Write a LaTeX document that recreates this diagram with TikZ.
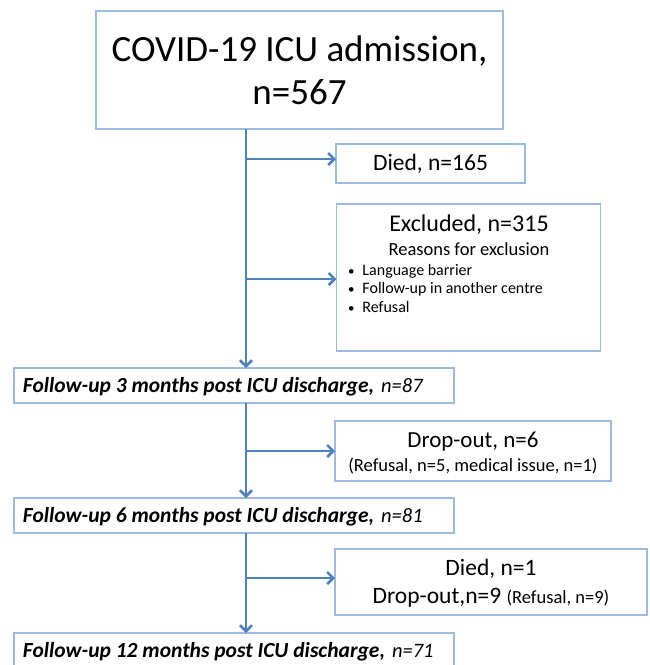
\documentclass[tikz,border=0pt]{standalone}
\usepackage{fontspec}
\setmainfont{Carlito}
\usetikzlibrary{arrows.meta}
\definecolor{boxline}{HTML}{9DBBE0}
\definecolor{arrblue}{HTML}{4F81BD}
\tikzset{
  box/.style={draw=boxline, line width=1.2pt, fill=white, inner sep=0pt, outer sep=0pt, rectangle},
  arr/.style={draw=arrblue, line width=2.5pt, -{Straight Barb[length=6pt,width=12pt,line width=2.5pt]}},
  txt/.style={inner sep=0pt, outer sep=0pt},
}
\newcommand{\futext}[2]{{\fontsize{21.5}{23}\selectfont\textbf{\textit{#1}}}\hspace{7pt}{\fontsize{20.5}{23}\selectfont\textit{#2}}}
\begin{document}
\begin{tikzpicture}[x=1pt,y=-1pt]
\useasboundingbox (0,0) rectangle (649,665);
\clip (0,0) rectangle (649,665);
\fill[white] (0,0) rectangle (649,665);
% boxes
\node[box, minimum width=407pt, minimum height=118pt, align=center, font=\fontsize{37}{43}\selectfont] (top) at (299.5,70) {COVID-19 ICU admission,\\n=567};
\node[box, minimum width=189pt, minimum height=39pt, font=\fontsize{23.5}{26}\selectfont] (died) at (430.5,163.5) {Died, n=165};
\node[box, minimum width=264pt, minimum height=147pt] (excl) at (468.5,277.5) {};
\node[txt, font=\fontsize{24}{26}\selectfont, anchor=base] (exclt) at (469,231) {Excluded, n=315};
\node[txt, font=\fontsize{18.5}{20}\selectfont, anchor=base] (reas) at (469,255) {Reasons for exclusion};
\node[txt, font=\fontsize{16}{17}\selectfont, anchor=base west, align=left] (b1) at (348,275) {{\fontsize{13}{13}\selectfont•}\hspace{8pt}Language barrier};
\node[txt, font=\fontsize{16}{17}\selectfont, anchor=base west, align=left] (b2) at (348,293) {{\fontsize{13}{13}\selectfont•}\hspace{8pt}Follow-up in another centre};
\node[txt, font=\fontsize{16}{17}\selectfont, anchor=base west, align=left] (b3) at (348,312) {{\fontsize{13}{13}\selectfont•}\hspace{8pt}Refusal};
\node[box, minimum width=440pt, minimum height=35pt] (fu3) at (234,385.5) {};
\node[txt, anchor=base west] (fu3t) at (23,392) {\futext{Follow-up 3 months post ICU discharge,}{n=87}};
\node[box, minimum width=276pt, minimum height=60pt] (drop) at (473,451) {};
\node[txt, font=\fontsize{23}{26}\selectfont, anchor=base] (dropt) at (473,447) {Drop-out, n=6};
\node[txt, font=\fontsize{18.5}{19}\selectfont, anchor=base] (dropr) at (473,471) {(Refusal, n=5, medical issue, n=1)};
\node[box, minimum width=312pt, minimum height=66pt] (dd) at (491,582) {};
\node[box, minimum width=440pt, minimum height=35pt] (fu6) at (234,515.5) {};
\node[txt, anchor=base west] (fu6t) at (23,522) {\futext{Follow-up 6 months post ICU discharge,}{n=81}};
\node[txt, font=\fontsize{23.5}{26}\selectfont, anchor=base] (ddt) at (491,575) {Died, n=1};
\node[txt, font=\fontsize{23.5}{26}\selectfont, anchor=base] (ddr) at (491,603) {Drop-out,n=9 {\fontsize{18.5}{19}\selectfont(Refusal, n=9)}};
\node[box, minimum width=440pt, minimum height=50pt] (fu12) at (234,658) {};
\node[txt, anchor=base west] (fu12t) at (23,657) {\futext{Follow-up 12 months post ICU discharge,}{n=71}};
% connectors
\coordinate (tx) at (246,0);
\coordinate (j1) at (246,159);
\coordinate (j2) at (246,279);
\coordinate (j3) at (246,451);
\coordinate (j4) at (246,578);
\draw[arr] (top.south -| tx) -- (fu3.north -| tx);
\draw[arr] (j1) -- (j1 -| died.west);
\draw[arr] (j2) -- (j2 -| excl.west);
\draw[arr] (fu3.south -| tx) -- (fu6.north -| tx);
\draw[arr] (j3) -- (j3 -| drop.west);
\draw[arr] (fu6.south -| tx) -- (fu12.north -| tx);
\draw[arr] (j4) -- (j4 -| dd.west);
\end{tikzpicture}
\end{document}
